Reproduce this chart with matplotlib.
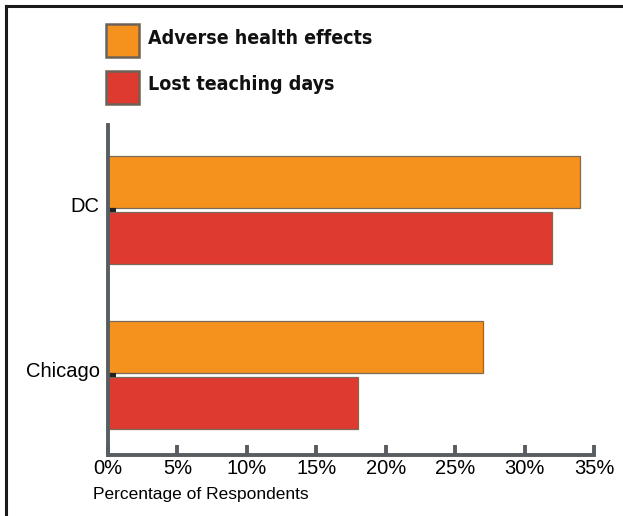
import matplotlib
matplotlib.use("Agg")
import matplotlib.pyplot as plt
import matplotlib.transforms as mtransforms
import matplotlib.font_manager as fm
from matplotlib.patches import Rectangle
from matplotlib.lines import Line2D
import numpy as np

categories = ["Chicago", "DC"]
adverse_health = [27, 34]
lost_days = [18, 32]
xtick_vals = [0, 5, 10, 15, 20, 25, 30, 35]
xtick_labels = ["0%", "5%", "10%", "15%", "20%", "25%", "30%", "35%"]
series_names = ["Adverse health effects", "Lost teaching days"]
colors = ["#F5921E", "#DE3A2F"]

# pick a narrow bold font for the legend if available
narrow = [f for f in fm.findSystemFonts() if "LiberationSansNarrow-Bold." in f]
if narrow:
    leg_fp = fm.FontProperties(fname=narrow[0], size=16)
else:
    leg_fp = fm.FontProperties(family="DejaVu Sans", weight="bold", stretch="condensed", size=14)

W, H = 623, 516
fig = plt.figure(figsize=(W / 100, H / 100), dpi=100)
fig.patch.set_facecolor("white")

ax = fig.add_axes([108 / W, 1 - 455 / H, (594 - 108) / W, (455 - 125) / H])
y = np.arange(len(categories))
off = 0.172
h = 0.315
ax.barh(y + off, adverse_health, height=h, color=colors[0], edgecolor="#7a6a5a", linewidth=0.9)
ax.barh(y - off, lost_days, height=h, color=colors[1], edgecolor="#7a6a5a", linewidth=0.9)

ax.set_xlim(0, 35)
ax.set_ylim(-0.485, 1.515)
for s in ["top", "right"]:
    ax.spines[s].set_visible(False)
for s in ["left", "bottom"]:
    ax.spines[s].set_color("#585d61")
    ax.spines[s].set_linewidth(2.8)

ax.set_xticks(xtick_vals)
ax.set_xticklabels(xtick_labels, family="Liberation Sans", fontsize=14.5)
ax.tick_params(axis="x", direction="in", length=7, width=2.8, color="#585d61", pad=3)
ax.set_yticks(y)
ax.set_yticklabels(categories, family="Liberation Sans", fontsize=14.5)
ax.tick_params(axis="y", direction="in", length=6, width=3, color="#222222", pad=6)
shift = mtransforms.ScaledTranslation(0, 5 / 100, fig.dpi_scale_trans)
for lab in ax.get_yticklabels():
    lab.set_transform(lab.get_transform() + shift)

fig.text(93 / W, 1 - 494 / H, "Percentage of Respondents", family="Liberation Sans",
         fontsize=12.5, va="center", ha="left")

# legend
sq_top = [24, 71]
txt_y = [38, 84]
for name, c, top, ty in zip(series_names, colors, sq_top, txt_y):
    fig.patches.append(Rectangle((106 / W, 1 - (top + 33) / H), 33 / W, 33 / H,
                                 transform=fig.transFigure, facecolor=c,
                                 edgecolor="#6e6258", linewidth=1.8))
    fig.text(148 / W, 1 - ty / H, name, fontproperties=leg_fp, va="center", ha="left",
             color="#111111")

# frame lines (top and left)
fig.lines.append(Line2D([6 / W, 1], [1 - 6 / H, 1 - 6 / H], transform=fig.transFigure,
                        color="#1a1a1a", linewidth=2.2))
fig.lines.append(Line2D([6 / W, 6 / W], [0, 1 - 6 / H], transform=fig.transFigure,
                        color="#1a1a1a", linewidth=2.2))

fig.savefig("out.png", dpi=100)
